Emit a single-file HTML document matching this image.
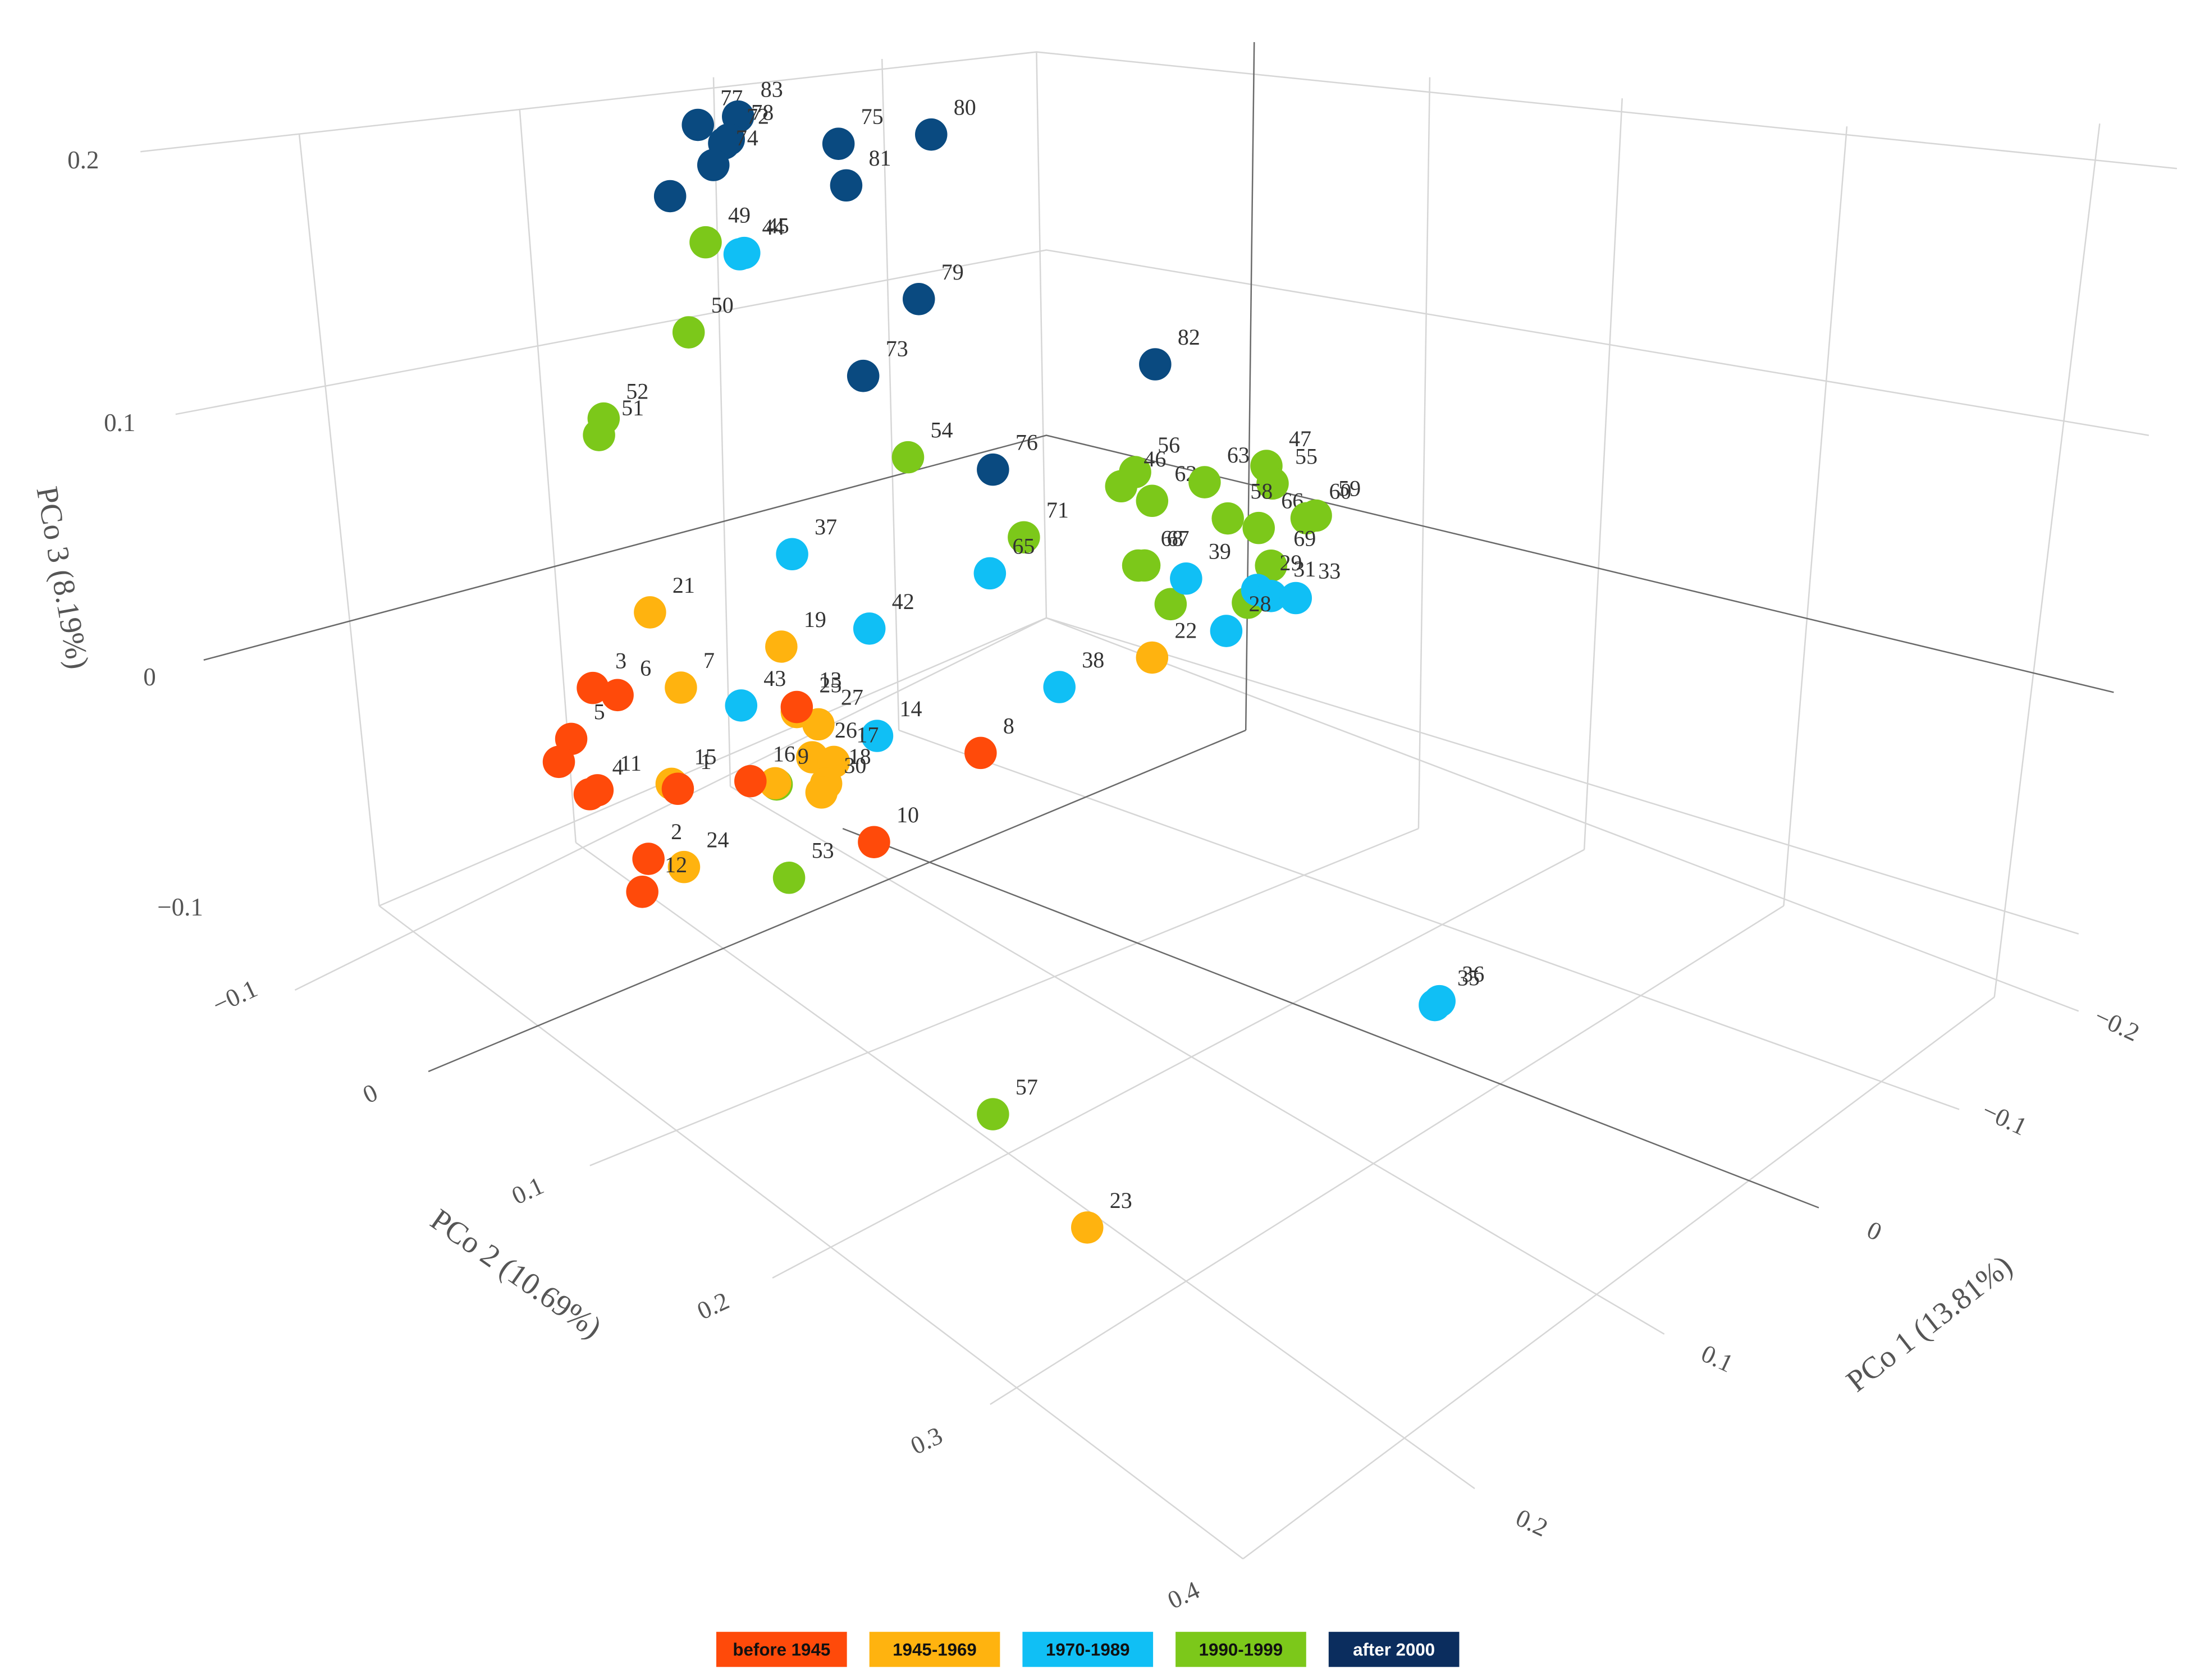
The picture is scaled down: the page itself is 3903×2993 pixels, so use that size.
<!DOCTYPE html>
<html><head><meta charset="utf-8"><style>
html,body{margin:0;padding:0;background:#fff;}
svg{display:block;}
text{font-family:"Liberation Serif",serif;}
#legend text{font-family:"Liberation Sans",sans-serif;}
</style></head><body>
<svg id="chart" width="3903" height="2993" viewBox="0 0 1560 1196.3" xmlns="http://www.w3.org/2000/svg">
<g id="grid" stroke="#d6d6d6" stroke-width="1" fill="none">
<path d="M100,108 L738,37 L1550,120"/>
<path d="M125,295 L745,178 L1530,310"/>
<path d="M270,645 L745,440 L1480,665"/>
<path d="M213,95 L270,645"/><path d="M370,78 L410,600"/><path d="M508,55 L520,560"/><path d="M628,42 L640,520"/>
<path d="M738,37 L745,440"/>
<path d="M1018,55 L1010,590"/><path d="M1155,70 L1128,605"/><path d="M1315,90 L1270,645"/><path d="M1495,88 L1420,710"/>
<path d="M210,705 L745,440"/><path d="M420,830 L1010,590"/><path d="M550,910 L1128,605"/><path d="M705,1000 L1270,645"/><path d="M885,1110 L1420,710"/>
<path d="M1480,720 L745,440"/><path d="M1395,790 L640,520"/><path d="M1185,950 L520,560"/><path d="M1050,1060 L410,600"/><path d="M270,645 L885,1110"/>
</g>
<g id="zerolines" stroke="#6a6a6a" stroke-width="1" fill="none">
<path d="M145,470 L745,310 L1505,493"/>
<path d="M893,30 L887,520"/>
<path d="M305,763 L887,520"/>
<path d="M600,590 L1295,860"/>
</g>
<g id="ticks" fill="#555" font-size="18">
<text x="48" y="120">0.2</text>
<text x="74" y="307">0.1</text>
<text x="102" y="488">0</text>
<text x="112" y="652">−0.1</text>
<text transform="translate(155,722) rotate(-25)">−0.1</text>
<text transform="translate(262,786) rotate(-25)">0</text>
<text transform="translate(368,858) rotate(-25)">0.1</text>
<text transform="translate(500,940) rotate(-25)">0.2</text>
<text transform="translate(652,1036) rotate(-25)">0.3</text>
<text transform="translate(835,1146) rotate(-25)">0.4</text>
<text transform="translate(1490,728) rotate(25)">−0.2</text>
<text transform="translate(1410,795) rotate(25)">−0.1</text>
<text transform="translate(1328,880) rotate(25)">0</text>
<text transform="translate(1210,968) rotate(25)">0.1</text>
<text transform="translate(1078,1085) rotate(25)">0.2</text>
</g>
<g id="titles" fill="#555" font-size="22">
<text transform="translate(26,348) rotate(80)">PCo 3 (8.19%)</text>
<text transform="translate(305,872) rotate(35)">PCo 2 (10.69%)</text>
<text transform="translate(1322,992) rotate(-38)">PCo 1 (13.81%)</text>
</g>
<g id="marks"></g>
<g id="legend"></g>
</svg>
<script>
const groups = [0,1,2,3,4];
const groupNames = ["before 1945","1945-1969","1970-1989","1990-1999","after 2000"];
const groupColors = ["#ff4a0a","#ffb30f","#10bff5","#7cc81a","#0a4a80"];
const legendColors = ["#ff4a0a","#ffb30f","#10bff5","#7cc81a","#0b2d5e"];
const pointLabels = [
 "77","83","78","72","74","","75","81","80","79","73","82","76",
 "49","50","52","51","54","71","56","46","62","63","47","55","58","66","59","60","69","67","68","","","53","57","",
 "44","45","37","42","43","14","38","39","65","29","31","33","28","35","36",
 "21","7","19","25","27","26","17","18","30","9","15","24","22","23",
 "3","6","5","","4","11","1","16","13","8","10","2","12"];
const pointGroup = [
 4,4,4,4,4,4,4,4,4,4,4,4,4,
 3,3,3,3,3,3,3,3,3,3,3,3,3,3,3,3,3,3,3,3,3,3,3,3,
 2,2,2,2,2,2,2,2,2,2,2,2,2,2,2,
 1,1,1,1,1,1,1,1,1,1,1,1,1,1,
 0,0,0,0,0,0,0,0,0,0,0,0,0];
const pc1 = [
 .221,.195,.201,.204,.211,.239,.130,.125,.070,.078,.114,-.075,.030,
 .216,.227,.282,.285,.085,.010,-.062,-.053,-.073,-.107,-.147,-.151,-.122,-.142,-.179,-.173,-.150,-.068,-.064,-.085,-.135,.162,.030,.170,
 .194,.191,.160,.110,.193,.105,-.013,-.095,.032,-.141,-.150,-.166,-.121,-.256,-.259,
 .252,.232,.167,.157,.143,.147,.133,.138,.141,.171,.238,.230,-.073,-.031,
 .289,.273,.303,.311,.291,.286,.234,.187,.157,.038,.107,.253,.257];
const pc3 = [
 .308,.298,.292,.292,.287,.289,.254,.235,.227,.166,.154,.062,.074,
 .259,.229,.223,.218,.107,.037,.026,.025,.009,-.001,-.015,-.024,-.023,-.037,-.051,-.049,-.056,-.014,-.012,-.038,-.063,-.020,-.181,.021,
 .243,.242,.107,.052,.064,.007,-.034,-.033,.034,-.061,-.068,-.077,-.067,-.284,-.284,
 .131,.091,.074,.043,.031,.020,.011,.005,.003,.022,.056,.019,-.053,-.257,
 .120,.109,.107,.102,.079,.078,.052,.031,.045,-.034,-.034,.034,.023];
function sx(a){ return 740 - 1100*a; }
function sy(a,c){ return 440 + 920*a - 1800*c; }
const NS="http://www.w3.org/2000/svg";
const marks=document.getElementById('marks');
for(let i=0;i<pc1.length;i++){
  const x=sx(pc1[i]), y=sy(pc1[i],pc3[i]);
  const c=document.createElementNS(NS,'circle');
  c.setAttribute('cx',x);c.setAttribute('cy',y);c.setAttribute('r',11.5);
  c.setAttribute('fill',groupColors[pointGroup[i]]);
  
  
  marks.appendChild(c);
  if(pointLabels[i]){
    const t=document.createElementNS(NS,'text');
    t.setAttribute('x',x+16);t.setAttribute('y',y-14);
    t.setAttribute('font-size','16');t.setAttribute('fill','#333');
    t.textContent=pointLabels[i];
    
    
    marks.appendChild(t);
  }
}
const leg=document.getElementById('legend');
groups.forEach(g=>{
  const x=510+g*109;
  const r=document.createElementNS(NS,'rect');
  r.setAttribute('x',x);r.setAttribute('y',1162);r.setAttribute('width',93);r.setAttribute('height',25);
  r.setAttribute('fill',legendColors[g]);
  
  
  leg.appendChild(r);
  const t=document.createElementNS(NS,'text');
  t.setAttribute('x',x+46.5);t.setAttribute('y',1179);t.setAttribute('text-anchor','middle');
  t.setAttribute('font-size','12.5');t.setAttribute('font-weight','bold');
  t.setAttribute('fill',g===4?'#fff':'#111');
  t.textContent=groupNames[g];
  
  
  leg.appendChild(t);
});
</script>
</body></html>
